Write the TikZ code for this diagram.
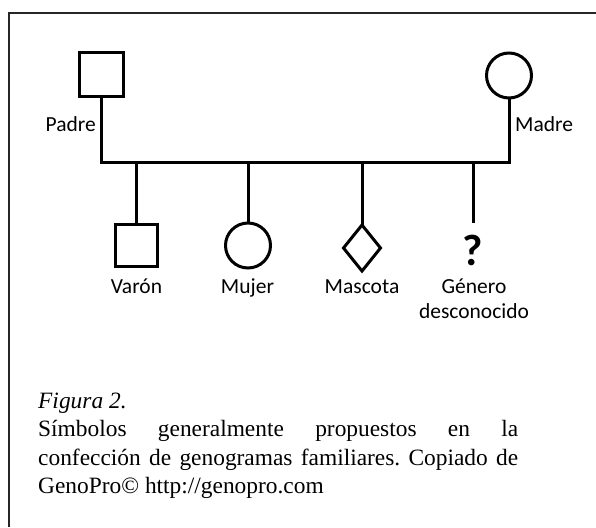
\documentclass[tikz,border=0pt]{standalone}
\usepackage{fontspec}
\setmainfont{Liberation Serif}
\newfontfamily\labfont{Carlito}
\usetikzlibrary{shapes.geometric}
\frenchspacing
\begin{document}
\begin{tikzpicture}[x=1pt,y=-1pt,
  sym/.style={draw=black,line width=3pt,fill=white,inner sep=0pt,outer sep=0pt},
  sq/.style={sym,rectangle,minimum size=#1},
  circ/.style={sym,circle,minimum size=#1},
  dia/.style={sym,diamond,minimum width=37pt,minimum height=46pt},
  link/.style={draw=black,line width=3pt,line join=miter},
  lab/.style={inner sep=0pt,font=\labfont\fontsize{21.5}{25}\selectfont},
  frame/.style={draw=black!85,line width=1.3pt}
]
\useasboundingbox (0,0) rectangle (596,527);
\fill[white] (0,0) rectangle (596,527);
% frame (top and left edges)
\coordinate (fTR) at (596,13);
\coordinate (fTL) at (9,13);
\coordinate (fBL) at (9,527);
\draw[frame] (fTR) -- (fTL) -- (fBL);
% parents
\node[sq=44pt] (padre) at (101,74.5) {};
\node[circ=45pt] (madre) at (509,75.5) {};
% children
\node[sq=42pt] (varon) at (136,245) {};
\node[circ=45pt] (mujer) at (248,245.5) {};
\node[dia] (mascota) at (362,248) {};
\coordinate (desc) at (473,223);
% bar
\coordinate (pL) at (101,162);
\coordinate (mR) at (509,162);
\draw[link] (padre.south) -- (pL) -- (mR) -- (madre.south);
\draw[link] (varon.north |- pL) -- (varon.north);
\draw[link] (mujer.north |- pL) -- (mujer.north);
\draw[link] (mascota.north |- pL) -- (mascota.north);
\draw[link] (desc |- pL) -- (desc);
% labels
\node[lab,anchor=base east] (lpadre) at (96,131) {Padre};
\node[lab,anchor=base west] (lmadre) at (515,131) {Madre};
\node[lab,anchor=base] (lvaron) at (136.5,293) {Varón};
\node[lab,anchor=base] (lmujer) at (247.5,293) {Mujer};
\node[lab,anchor=base] (lmascota) at (362,293) {Mascota};
\node[inner sep=0pt,anchor=base,font=\labfont\bfseries\fontsize{44}{44}\selectfont] (qmark) at (473,265) {?};
\node[lab,anchor=base,align=center] (lgenero) at (474,318) {Género\\desconocido};
% caption
\node[inner sep=0pt,anchor=base west,text width=480pt,align=justify,
  font=\fontsize{23.4}{28.5}\selectfont] (caption) at (38,408)
  {\textit{Figura 2.}\\
   Símbolos generalmente propuestos en la\linebreak
   confección de genogramas familiares. Copiado de\linebreak
   GenoPro© http://genopro.com};
\end{tikzpicture}
\end{document}
